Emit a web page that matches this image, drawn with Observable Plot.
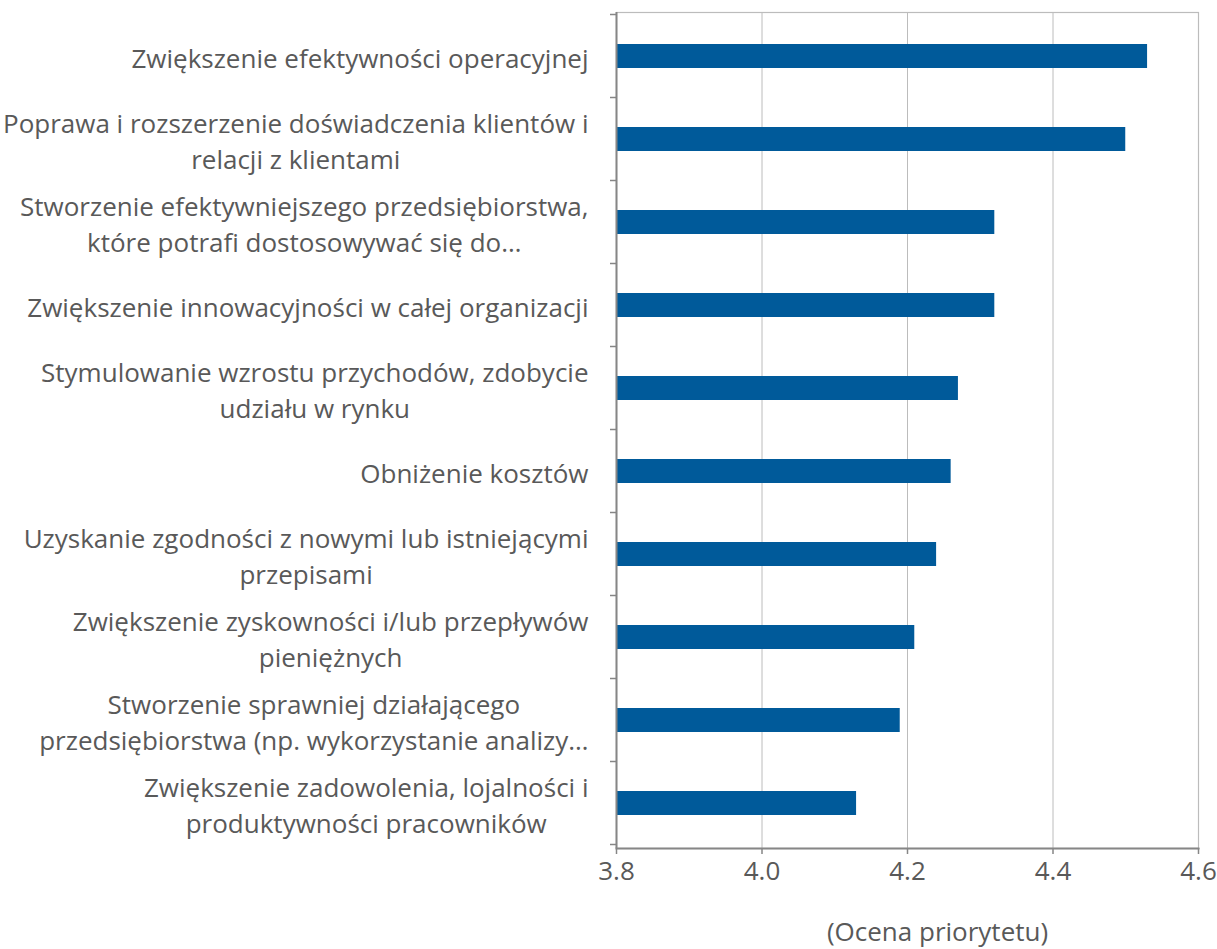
<!DOCTYPE html>
<html>
<head>
<meta charset="utf-8">
<script src="https://cdn.jsdelivr.net/npm/d3@7"></script>
<script src="https://cdn.jsdelivr.net/npm/@observablehq/plot@0.6"></script>
<style>
  html, body { margin: 0; padding: 0; background: #fff; }
  #chart svg { display: block; }
</style>
</head>
<body>
<div id="chart"></div>
<script>
// Business priorities, ranked by mean priority score
const categories = [
  "Zwiększenie efektywności operacyjnej",
  "Poprawa i rozszerzenie doświadczenia klientów i\nrelacji z klientami",
  "Stworzenie efektywniejszego przedsiębiorstwa,\nktóre potrafi dostosowywać się do…",
  "Zwiększenie innowacyjności w całej organizacji",
  "Stymulowanie wzrostu przychodów, zdobycie\nudziału w rynku",
  "Obniżenie kosztów",
  "Uzyskanie zgodności z nowymi lub istniejącymi\nprzepisami",
  "Zwiększenie zyskowności i/lub przepływów\npieniężnych",
  "Stworzenie sprawniej działającego\nprzedsiębiorstwa (np. wykorzystanie analizy…",
  "Zwiększenie zadowolenia, lojalności i\nproduktywności pracowników"
];
const scores = [4.53, 4.50, 4.32, 4.32, 4.27, 4.26, 4.24, 4.21, 4.19, 4.13];
const xTicks = [3.8, 4.0, 4.2, 4.4, 4.6];
const xLabel = "(Ocena priorytetu)";

const data = categories.map((c, i) => ({category: c, score: scores[i]}));

const textColor = "#595959";
const axisColor = "#868686";
const gridColor = "#bcbcbc";

// Small tick marks on the category axis, drawn at the band boundaries
function bandBoundaryTicks(index, scales, values, dims) {
  const y = scales.y;
  const bw = y.bandwidth ? y.bandwidth() : 0;
  const centers = categories.map(c => y(c) + bw / 2);
  const step = centers[1] - centers[0];
  const bounds = [centers[0] - step / 2, ...centers.map(c => c + step / 2)];
  const g = d3.create("svg:g");
  g.selectAll("line").data(bounds).join("line")
    .attr("x1", dims.marginLeft - 6).attr("x2", dims.marginLeft)
    .attr("y1", d => d).attr("y2", d => d)
    .attr("stroke", axisColor).attr("stroke-width", 1.5);
  return g.node();
}

const chart = Plot.plot({
  width: 1217,
  height: 949,
  marginLeft: 616,
  marginRight: 19,
  marginTop: 12,
  marginBottom: 101,
  style: {fontFamily: "'Open Sans', sans-serif", fontSize: "26px", color: textColor, background: "#fff"},
  x: {domain: [3.8, 4.6]},
  y: {domain: categories, paddingInner: 0.71, paddingOuter: 0.355},
  marks: [
    Plot.gridX(xTicks.slice(1), {stroke: gridColor, strokeOpacity: 1, strokeWidth: 1}),
    Plot.frame({stroke: gridColor, strokeWidth: 1.2}),
    Plot.barX(data, {x1: 3.8, x2: "score", y: "category", fill: "#005a9a"}),
    Plot.ruleX([3.8], {stroke: axisColor, strokeWidth: 2}),
    Plot.frame({anchor: "bottom", stroke: axisColor, strokeWidth: 2}),
    Plot.axisX({ticks: xTicks, tickFormat: d3.format(".1f"), tickSize: 6, tickPadding: 7,
                stroke: axisColor, strokeWidth: 1.5, fill: textColor, label: null, fontSize: 26}),
    Plot.axisY({tickSize: 0, tickPadding: 28, label: null, fill: textColor,
                lineHeight: 1.37, fontSize: 26}),
    bandBoundaryTicks,
    Plot.text([xLabel], {frameAnchor: "bottom", lineAnchor: "middle", dx: 30, dy: 84,
                         fill: textColor, fontSize: 26})
  ]
});

document.getElementById("chart").appendChild(chart);

// Center each line of a wrapped category label within its label block
d3.select(chart).selectAll("[aria-label='y-axis tick label'] text").each(function () {
  const tspans = Array.from(this.querySelectorAll("tspan"));
  if (tspans.length < 2) return;
  const w = Math.max(...tspans.map(t => t.getComputedTextLength()));
  this.setAttribute("text-anchor", "middle");
  tspans.forEach(t => t.setAttribute("x", -w / 2));
});
</script>
</body>
</html>
